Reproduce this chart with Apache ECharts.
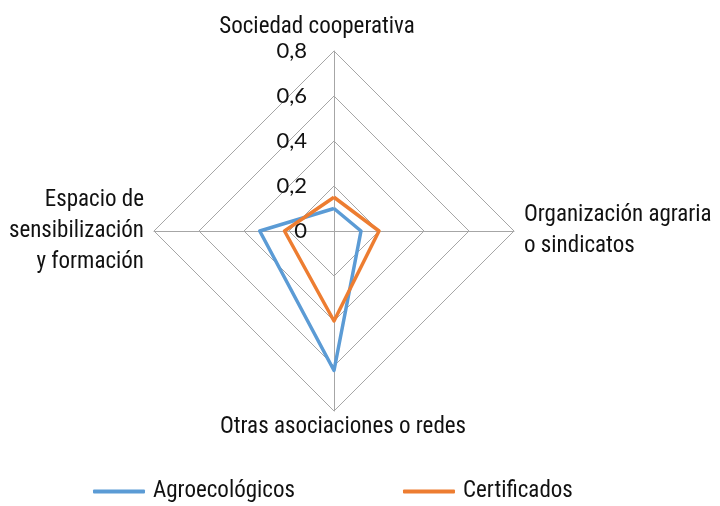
<!DOCTYPE html>
<html>
<head>
<meta charset="utf-8">
<script src="https://cdn.jsdelivr.net/npm/echarts@6/dist/echarts.min.js"></script>
<style>
  html, body { margin: 0; padding: 0; background: #fff; }
  #chart { width: 720px; height: 506px; }
</style>
</head>
<body>
<div id="chart"></div>
<script>
// order as drawn by the radar (counter-clockwise from the top)
const indicators = [
  "Sociedad cooperativa",
  "Espacio de\nsensibilización\ny formación",
  "Otras asociaciones o redes",
  "Organización agraria\no sindicatos"
];
const agroecologicos = [0.1, 0.33, 0.62, 0.12];
const certificados = [0.15, 0.22, 0.4, 0.2];
const seriesNames = ["Agroecológicos", "Certificados"];
const maxValue = 0.8;

const narrow = "'Liberation Sans Narrow', 'Roboto Condensed', Roboto, sans-serif";

let chart = echarts.init(document.getElementById("chart"));

// rich style per label: top one nudged left, bottom one nudged right and up
function nameFormatter(name) {
  let idx = indicators.indexOf(name);
  let key = idx === 0 ? "t" : idx === 2 ? "b" : "m";
  return name.split("\n").map(function (line) {
    return "{" + key + "|" + line + "}";
  }).join("\n");
}

let option = {
  animation: false,
  legend: {
    bottom: -2,
    left: 88,
    itemWidth: 52,
    itemHeight: 4,
    itemGap: 108,
    icon: "roundRect",
    textStyle: { fontFamily: narrow, fontSize: 23, color: "#111", padding: [0, 0, 0, 3] },
    data: seriesNames
  },
  radar: {
    center: [334, 231],
    radius: 180,
    shape: "polygon",
    splitNumber: 4,
    startAngle: 90,
    axisName: {
      color: "#111", fontFamily: narrow, fontSize: 23,
      formatter: nameFormatter,
      rich: {
        t: { fontFamily: narrow, fontSize: 23, color: "#111", lineHeight: 28, padding: [0, 34, 0, 0] },
        b: { fontFamily: narrow, fontSize: 23, color: "#111", lineHeight: 12, padding: [0, 0, 0, 18] },
        m: { fontFamily: narrow, fontSize: 23, color: "#111", lineHeight: 31 }
      }
    },
    nameGap: 10,
    splitArea: { show: false },
    splitLine: { lineStyle: { color: "#a6a6a6", width: 1 } },
    axisLine: { lineStyle: { color: "#a6a6a6", width: 1 } },
    axisLabel: { show: false },
    indicator: indicators.map(function (name, i) {
      let ind = { name: name, min: 0, max: maxValue };
      if (i === 0) {
        ind.axisLabel = {
          show: true,
          showMinLabel: true,
          fontFamily: "Lato, 'Open Sans', sans-serif",
          fontSize: 22,
          color: "#111",
          margin: 27,
          formatter: function (v) { return String(+v.toFixed(1)).replace(".", ","); }
        };
      }
      return ind;
    })
  },
  series: [{
    type: "radar",
    symbol: "none",
    data: [
      { name: seriesNames[0], value: agroecologicos,
        lineStyle: { color: "#5b9bd5", width: 3.5 }, itemStyle: { color: "#5b9bd5" } },
      { name: seriesNames[1], value: certificados,
        lineStyle: { color: "#ed7d31", width: 3.5 }, itemStyle: { color: "#ed7d31" } }
    ]
  }]
};

option && chart.setOption(option);
</script>
</body>
</html>
